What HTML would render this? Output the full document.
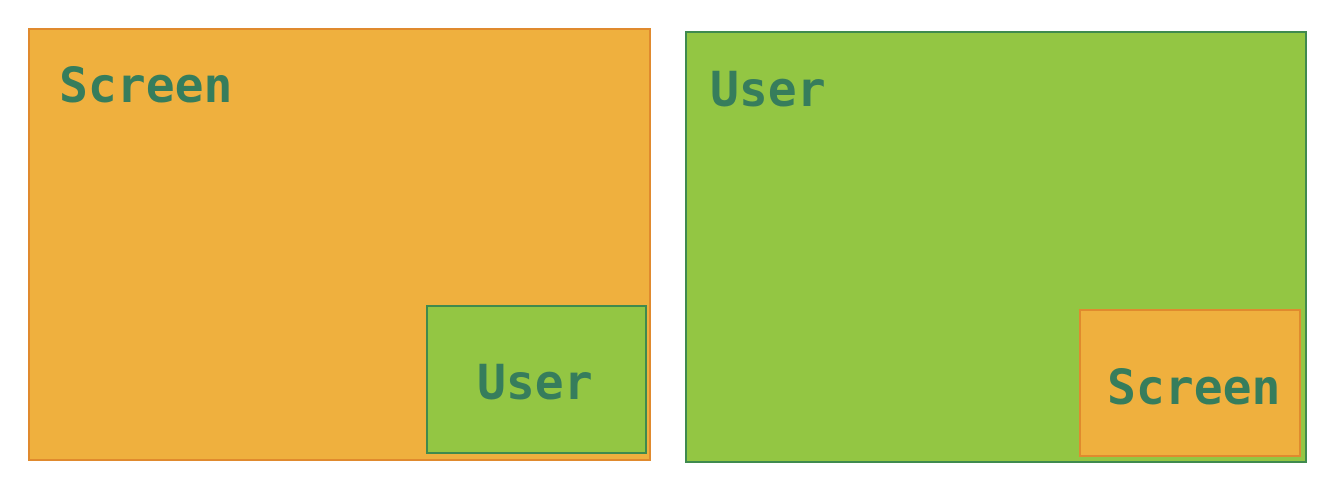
<!DOCTYPE html>
<html><head><meta charset="utf-8"><style>
body{margin:0;width:1334px;height:484px;background:#fff;position:relative;overflow:hidden}
.b{position:absolute;box-sizing:border-box;border:2px solid}
.o{background:#EFB03E;border-color:#E08A2E}
.g{background:#93C643;border-color:#3F8A4E}
.t{position:absolute;font-family:"DejaVu Sans Mono","Liberation Mono",monospace;font-weight:bold;font-size:48px;color:#367D5C;line-height:1;white-space:nowrap}
</style></head><body>
<div class="b o" style="left:28px;top:28px;width:623px;height:433px"></div>
<div class="b g" style="left:426px;top:305px;width:221px;height:149px"></div>
<div class="b g" style="left:685px;top:31px;width:622px;height:432px"></div>
<div class="b o" style="left:1079px;top:309px;width:222px;height:148px"></div>
<div class="t" style="left:59px;top:62px">Screen</div>
<div class="t" style="left:477px;top:359px">User</div>
<div class="t" style="left:710px;top:66px">User</div>
<div class="t" style="left:1107px;top:364px">Screen</div>
</body></html>
